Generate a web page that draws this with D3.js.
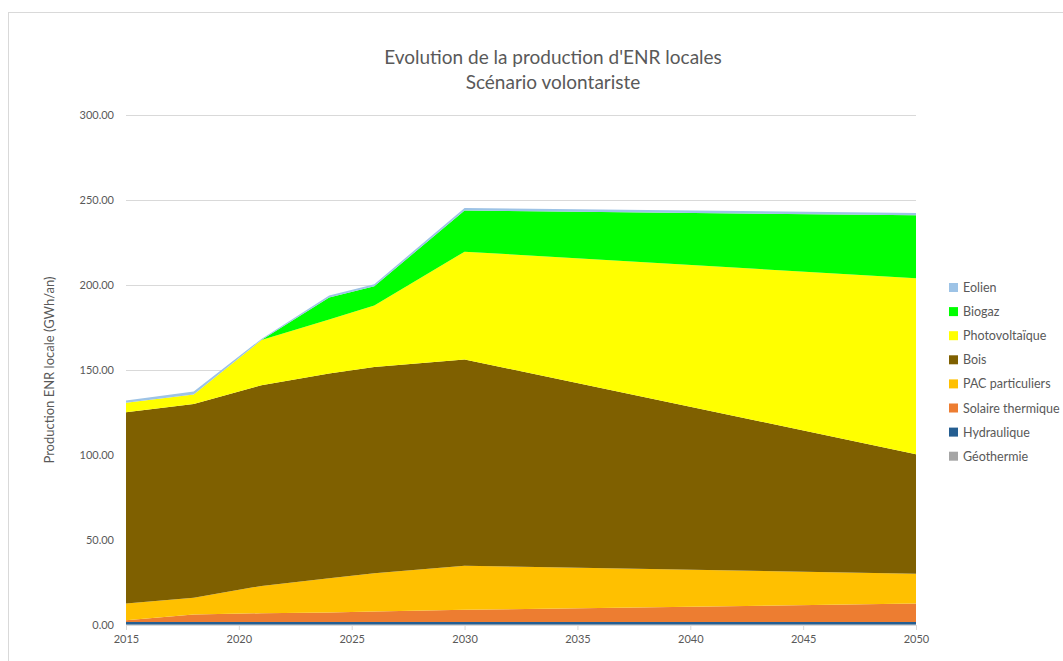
<!DOCTYPE html>
<html>
<head>
<meta charset="utf-8">
<script src="https://cdn.jsdelivr.net/npm/d3@7"></script>
<style>
  html, body { margin: 0; padding: 0; background: #fff; }
  svg { display: block; font-family: Lato, "Open Sans", sans-serif; }
</style>
</head>
<body>
<svg id="chart" width="1063" height="661"></svg>
<script>
// Years of the scenario
const years = [2015, 2018, 2021, 2024, 2026, 2030, 2050];

// Production per source (GWh/an), stacked bottom to top
const geothermie       = [0.3, 0.3, 0.3, 0.3, 0.3, 0.3, 0.3];
const hydraulique      = [1.5, 1.5, 1.5, 1.5, 1.5, 1.5, 1.5];
const solaireThermique = [1.0, 4.4, 5.1, 5.6, 6.1, 7.1, 10.8];
const pacParticuliers  = [9.8, 9.8, 16.1, 20.1, 22.5, 26.0, 17.6];
const bois             = [112.6, 114.0, 118.0, 120.5, 121.3, 121.3, 70.3];
const photovoltaique   = [5.5, 5.6, 26.6, 31.7, 36.3, 63.4, 103.5];
const biogaz           = [0, 0, 0, 12.9, 11.3, 24.2, 37.0];
const eolien           = [1.3, 1.8, 0.7, 1.2, 1.2, 1.5, 1.3];

const seriesNames = ["Géothermie", "Hydraulique", "Solaire thermique", "PAC particuliers",
                     "Bois", "Photovoltaïque", "Biogaz", "Eolien"];
const seriesValues = [geothermie, hydraulique, solaireThermique, pacParticuliers,
                      bois, photovoltaique, biogaz, eolien];
const seriesColors = ["#a5a5a5", "#255e91", "#ed7d31", "#ffc000",
                      "#7f6000", "#ffff00", "#00ff00", "#9dc3e6"];

const yTicks = [0, 50, 100, 150, 200, 250, 300];
const xTicks = [2015, 2020, 2025, 2030, 2035, 2040, 2045, 2050];

const titleLines = ["Evolution de la production d'ENR locales", "Scénario volontariste"];
const yTitle = "Production ENR locale (GWh/an)";

// Table rows for d3.stack
const rows = years.map((yr, i) => {
  const r = { year: yr };
  seriesNames.forEach((n, k) => { r[n] = seriesValues[k][i]; });
  return r;
});

const svg = d3.select("#chart");

// outer chart frame
svg.append("rect")
  .attr("x", 8.5).attr("y", 12.5)
  .attr("width", 1080).attr("height", 670)
  .attr("fill", "#fff").attr("stroke", "#d9d9d9");

const plot = { left: 126, right: 916, top: 115, bottom: 625 };

const x = d3.scaleLinear().domain([2015, 2050]).range([plot.left, plot.right]);
const y = d3.scaleLinear().domain([0, 300]).range([plot.bottom, plot.top]);

// grid lines + y labels
const yAxis = d3.axisLeft(y).tickValues(yTicks).tickSize(-(plot.right - plot.left))
  .tickPadding(12).tickFormat(d3.format(".2f"));
const gy = svg.append("g").attr("transform", `translate(${plot.left},0)`).call(yAxis);
gy.select(".domain").remove();
gy.selectAll(".tick line").attr("stroke", "#d9d9d9").attr("stroke-width", 1);
gy.selectAll(".tick text").attr("fill", "#595959").attr("font-size", 11)
  .attr("font-family", "Lato, sans-serif");

// stacked areas
const stack = d3.stack().keys(seriesNames);
const layers = stack(rows);
const area = d3.area()
  .x(d => x(d.data.year))
  .y0(d => y(d[0]))
  .y1(d => y(d[1]));

svg.append("g").selectAll("path")
  .data(layers)
  .join("path")
  .attr("d", area)
  .attr("fill", (d, i) => seriesColors[i]);

// x axis
const xAxis = d3.axisBottom(x).tickValues(xTicks).tickSize(5).tickPadding(5)
  .tickFormat(d3.format("d"));
const gx = svg.append("g").attr("transform", `translate(0,${plot.bottom})`).call(xAxis);
gx.select(".domain").attr("stroke", "#d9d9d9");
gx.selectAll(".tick line").attr("stroke", "#d9d9d9");
gx.selectAll(".tick text").attr("fill", "#595959").attr("font-size", 11)
  .attr("font-family", "Lato, sans-serif");

// title
svg.append("text")
  .attr("x", 553).attr("y", 0)
  .attr("text-anchor", "middle")
  .attr("fill", "#595959").attr("font-size", 19)
  .selectAll("tspan").data(titleLines).join("tspan")
  .attr("x", 553).attr("y", (d, i) => 64 + i * 25)
  .text(d => d);

// y axis title
svg.append("text")
  .attr("transform", "translate(54,370) rotate(-90)")
  .attr("text-anchor", "middle")
  .attr("fill", "#595959").attr("font-size", 13)
  .text(yTitle);

// legend (top entry is the top layer)
const legendOrder = seriesNames.map((n, i) => i).reverse();
const lg = svg.append("g").attr("transform", "translate(949,282)");
const items = lg.selectAll("g").data(legendOrder).join("g")
  .attr("transform", (d, j) => `translate(0,${j * 24.1})`);
items.append("rect").attr("width", 9).attr("height", 9).attr("y", 1)
  .attr("fill", d => seriesColors[d]);
items.append("text").attr("x", 14).attr("y", 10)
  .attr("fill", "#595959").attr("font-size", 12.5)
  .text(d => seriesNames[d]);
</script>
</body>
</html>
